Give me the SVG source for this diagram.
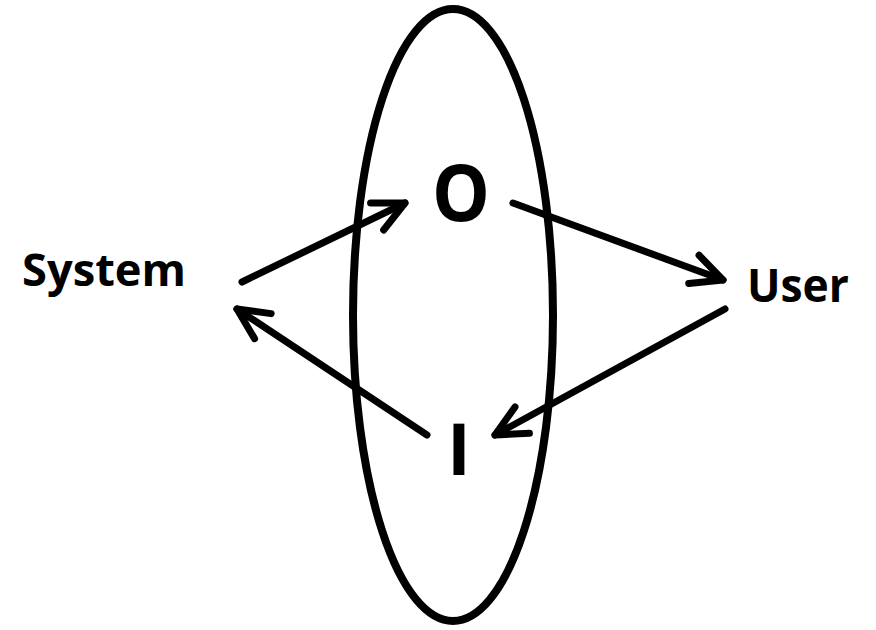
<svg xmlns="http://www.w3.org/2000/svg" width="876" height="630" viewBox="0 0 876 630">
<style>
.lbl{font-family:"Open Sans","Lato","Liberation Sans",sans-serif;font-weight:bold;fill:#000}
.conn{fill:none;stroke:#000;stroke-width:7;stroke-linecap:round;stroke-linejoin:round}
</style>
<defs>
<marker id="ah" markerUnits="userSpaceOnUse" markerWidth="60" markerHeight="60" refX="0" refY="0" viewBox="-40 -30 50 60" orient="auto" overflow="visible">
<path d="M-31,-15 L0,0 L-31,15" fill="none" stroke="#000" stroke-width="7" stroke-linecap="round" stroke-linejoin="round"/>
</marker>
</defs>
<rect width="876" height="630" fill="#fff"/>
<g id="boundary">
<ellipse cx="453" cy="315" rx="100" ry="306" fill="none" stroke="#000" stroke-width="8"/>
</g>
<g id="system"><text class="lbl" x="22" y="286" font-size="45" textLength="164" lengthAdjust="spacingAndGlyphs">System</text></g>
<g id="user"><text class="lbl" x="747" y="302" font-size="46" textLength="102" lengthAdjust="spacingAndGlyphs">User</text></g>
<g id="output"><text class="lbl" x="461" y="221" font-size="78" text-anchor="middle" textLength="58" lengthAdjust="spacingAndGlyphs">O</text></g>
<g id="input"><text class="lbl" x="459" y="475" font-size="72" text-anchor="middle">I</text></g>
<g id="connectors">
<path class="conn" d="M242,282 L405,203" marker-end="url(#ah)"/>
<path class="conn" d="M513,203 L723,280" marker-end="url(#ah)"/>
<path class="conn" d="M725,309 L495,435" marker-end="url(#ah)"/>
<path class="conn" d="M427,435 L237,309" marker-end="url(#ah)"/>
</g>
</svg>
